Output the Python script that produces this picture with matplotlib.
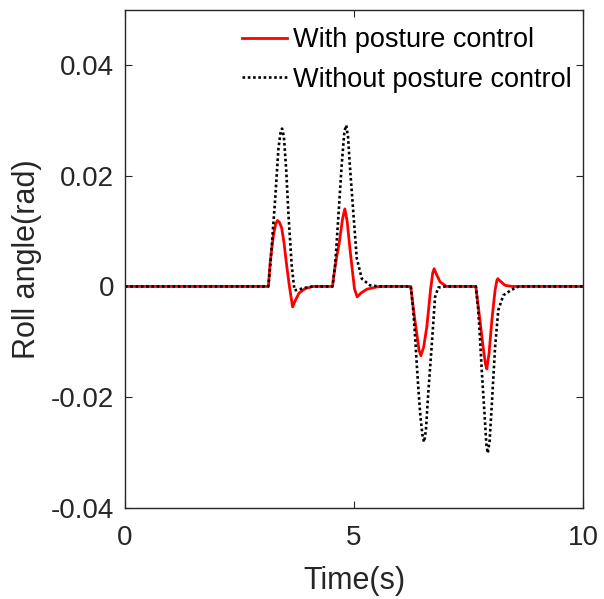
import matplotlib
matplotlib.use('Agg')
import matplotlib.pyplot as plt

plt.rcParams['font.family'] = ['Liberation Sans', 'DejaVu Sans']

# --- data ---
t_with = [0, 3.13, 3.17, 3.24, 3.29, 3.33, 3.37, 3.42, 3.47, 3.53, 3.59, 3.66, 3.72, 3.80, 3.93, 4.10,
          4.53, 4.59, 4.68, 4.75, 4.80, 4.85, 4.91, 5.01, 5.07, 5.15, 5.28, 5.55,
          6.24, 6.30, 6.37, 6.42, 6.46, 6.52, 6.59, 6.67, 6.72, 6.75, 6.80, 6.88, 7.02,
          7.66, 7.75, 7.82, 7.87, 7.90, 7.95, 8.01, 8.08, 8.12, 8.14, 8.20, 8.30, 8.45, 10]
roll_with = [0, 0, 0.0044, 0.0092, 0.0113, 0.0119, 0.0116, 0.0106, 0.0080, 0.0038, 0.0, -0.0037, -0.0025, -0.0012, -0.0004, 0,
             0, 0.0038, 0.0080, 0.0122, 0.0140, 0.0118, 0.0069, -0.0004, -0.0019, -0.0012, -0.0005, 0,
             0, -0.0043, -0.0085, -0.0115, -0.0125, -0.0110, -0.0073, -0.0007, 0.0025, 0.0032, 0.0022, 0.0008, 0,
             0, -0.0061, -0.0110, -0.0140, -0.0149, -0.0120, -0.0061, -0.0007, 0.0011, 0.0014, 0.0009, 0.0002, 0, 0]

t_without = [0, 3.13, 3.17, 3.20, 3.28, 3.35, 3.40, 3.43, 3.47, 3.52, 3.57, 3.64, 3.70, 3.78, 3.90, 4.10,
             4.53, 4.59, 4.66, 4.73, 4.79, 4.83, 4.87, 4.91, 4.99, 5.06, 5.17, 5.35, 5.55,
             6.24, 6.29, 6.33, 6.37, 6.41, 6.45, 6.50, 6.53, 6.57, 6.62, 6.70, 6.77, 6.84, 7.00,
             7.66, 7.71, 7.75, 7.79, 7.85, 7.89, 7.92, 7.96, 8.01, 8.08, 8.15, 8.26, 8.44, 8.60, 10]
roll_without = [0, 0, 0.0035, 0.0069, 0.0159, 0.0249, 0.0280, 0.0285, 0.0270, 0.0210, 0.0128, 0.0038, -0.0007, -0.0006, -0.0003, 0,
                0, 0.0040, 0.0128, 0.0218, 0.0280, 0.0291, 0.0270, 0.0218, 0.0128, 0.0051, 0.0014, 0.0002, 0,
                0, -0.0040, -0.0085, -0.0140, -0.0190, -0.0235, -0.0272, -0.0281, -0.0260, -0.0194, -0.0103, -0.0019, -0.0002, 0,
                0, -0.0040, -0.0092, -0.0152, -0.0230, -0.0285, -0.0301, -0.0280, -0.0212, -0.0110, -0.0043, -0.0016, -0.0006, 0, 0]

x_ticks = [0, 5, 10]
y_ticks = [-0.04, -0.02, 0, 0.02, 0.04]
y_tick_labels = ['-0.04', '-0.02', '0', '0.02', '0.04']

axis_col = '#262626'

fig = plt.figure(figsize=(6.04, 5.99), dpi=100)
ax = fig.add_axes([125 / 604, 91 / 599, 458 / 604, 498.5 / 599])

ax.plot(t_with, roll_with, color='red', linewidth=2.0, label='With posture control')
ax.plot(t_without, roll_without, color='black', linewidth=1.9, linestyle=(0, (1, 1)),
        label='Without posture control')

ax.set_xlim(0, 10)
ax.set_ylim(-0.04, 0.05)
ax.set_xticks(x_ticks)
ax.set_yticks(y_ticks)
ax.set_yticklabels(y_tick_labels)

for s in ax.spines.values():
    s.set_color(axis_col)
    s.set_linewidth(1.0)
ax.tick_params(direction='in', top=True, right=True, length=5, width=0.8,
               colors=axis_col, labelcolor='#262626', labelsize=20)
ax.tick_params(axis='y', pad=8)
ax.tick_params(axis='x', pad=12)

ax.set_xlabel('Time(s)', fontsize=22, color='#262626', labelpad=11)
ax.set_ylabel('Roll angle(rad)', fontsize=22, color='#262626', labelpad=6)

ax.legend(loc='upper left', bbox_to_anchor=(242 / 604, 1 - 27 / 599),
          bbox_transform=fig.transFigure, frameon=False, fontsize=19.5,
          handlelength=1.67, handletextpad=0.2, labelspacing=0.5,
          borderpad=0, borderaxespad=0)

fig.savefig('out.png', dpi=100)
